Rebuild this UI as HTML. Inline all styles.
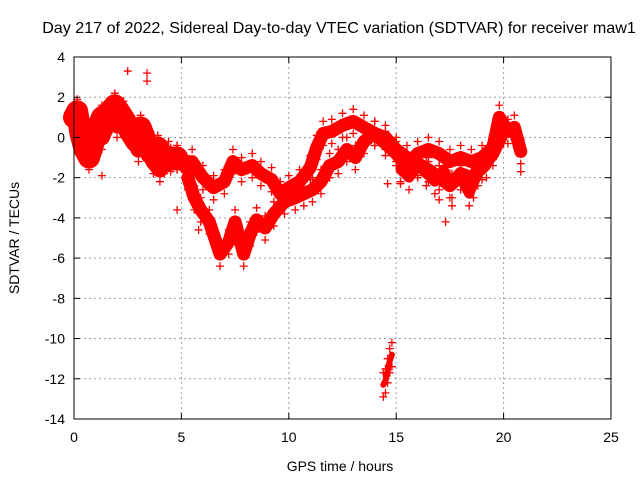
<!DOCTYPE html>
<html><head><meta charset="utf-8"><style>
body{margin:0;background:#fff}
svg{display:block;font-family:"Liberation Sans",sans-serif}
</style></head><body>
<svg id="chart" width="640" height="480">
<text x="339" y="33" font-size="16.1" text-anchor="middle">Day 217 of 2022, Sidereal Day-to-day VTEC variation (SDTVAR) for receiver maw1</text>
<text x="340" y="471" font-size="14" text-anchor="middle">GPS time / hours</text>
<text x="19" y="238" font-size="14" text-anchor="middle" transform="rotate(-90 19 238)">SDTVAR / TECUs</text>
<g id="grid"></g><g id="marks"></g><g id="axes"></g>
</svg>
<script>
const xTicks=[0,5,10,15,20,25];
const yTicks=[4,2,0,-2,-4,-6,-8,-10,-12,-14];
const track1Hours=[0,0.15,0.3,0.5,0.7,0.9,1.1,1.3,1.6,1.9,2.1,2.4,2.6,2.9,3.1,3.4,3.6,3.9,4.2,4.5,4.8];
const track1Values=[1,1.3,0.2,-0.6,-1.0,-0.3,0.5,1.0,1.2,1.6,1.3,0.8,0.3,-0.2,0.5,-0.3,-0.8,-0.5,-1.2,-1.1,-1.0];
const track2Hours=[0.2,0.5,0.8,1.0,1.3,1.6,2.0,2.3,2.7,3.0,3.3,3.7,4.0,4.4];
const track2Values=[0.4,0.2,-0.4,0.2,0.0,0.8,0.6,1.2,0.2,-0.6,-0.2,-1.2,-1.6,-0.8];
const upperHours=[4.8,5.2,5.5,6.0,6.5,7.0,7.4,7.8,8.3,8.7,9.2,9.6,10.0,10.5,11.0,11.3,11.6,12.0,12.5,13.0,13.5,14.0,14.5,15.0,15.5,16.0,16.5,17.0,17.5,18.0,18.5,19.0,19.5,19.8,20.2,20.5,20.8];
const upperValues=[-1,-1.5,-1.2,-2,-2.5,-2.2,-1.2,-1.6,-1.4,-1.8,-2.1,-2.8,-2.5,-2.2,-1.5,-0.5,0.2,0.3,0.6,0.8,0.5,0.2,-0.3,-0.8,-1.4,-0.8,-0.6,-0.8,-1.2,-1.0,-1.2,-1.0,-0.5,1.0,0.3,0.5,-0.7];
const lowerHours=[5.3,5.6,5.9,6.3,6.8,7.2,7.5,7.9,8.2,8.5,8.9,9.3,9.8,10.3,10.7,11.1,11.5,11.9,12.3,12.7,13.1,13.5,14.0,14.5,15.0,15.5,16.0,16.5,17.0,17.5,18.0,18.5,19.0,19.5,20.0];
const lowerValues=[-2,-3,-3.6,-4.2,-5.8,-5.2,-4.2,-5.8,-4.8,-4.1,-4.5,-3.8,-3.2,-3.0,-2.8,-2.6,-2.2,-1.4,-1.2,-0.6,-1.0,-0.2,0.2,0,-0.6,-1.0,-1.3,-1.6,-2.0,-2.4,-1.8,-2.0,-1.5,-0.8,0.3];
const noiseHours=[15.2,15.6,16.0,16.4,16.8,17.2,17.6,18.0,18.4,18.8,19.2];
const noiseValues=[-1.6,-2.0,-1.4,-1.8,-2.2,-1.6,-2.4,-2.0,-2.8,-1.8,-1.4];
const clusterHours=[14.4,14.5,14.6,14.7,14.8];
const clusterValues=[-12.3,-12.1,-11.6,-11.1,-10.8];
const strayHours=[2.5,3.4,3.4,0.3,1.3,4.8,5.6,5.8,17.3,17.6,14.6,20.8,15.2,18.6,17.0];
const strayValues=[3.3,3.2,2.8,-0.7,-1.9,-3.6,-3.1,-4.6,-4.2,-3.4,-2.3,-1.7,-2.3,-3.0,-3.1];
const NS="http://www.w3.org/2000/svg";
const X0=74,X1=611,Y0=57,Y1=419;
const xs=v=>X0+(v-0)/25*(X1-X0);
const ys=v=>Y0+(4-v)/18*(Y1-Y0);
function mk(t,a,p){const e=document.createElementNS(NS,t);for(const k in a)e.setAttribute(k,a[k]);p.appendChild(e);return e;}
const grid=document.getElementById('grid'),axes=document.getElementById('axes'),marks=document.getElementById('marks');
xTicks.forEach(t=>{const x=xs(t);
 if(t>0&&t<25){const g=mk('line',{x1:x,x2:x,y1:Y0,y2:Y1,stroke:'#a0a0a0','stroke-dasharray':'2,3'},grid);
 
 }
 mk('line',{x1:x,x2:x,y1:Y1,y2:Y1-6,stroke:'#000'},axes);mk('line',{x1:x,x2:x,y1:Y0,y2:Y0+6,stroke:'#000'},axes);
 const l=mk('text',{x:x,y:Y1+23,'font-size':14,'text-anchor':'middle'},axes);l.textContent=t;
 
 });
yTicks.forEach(t=>{const y=ys(t);
 if(t<4&&t>-14){const g=mk('line',{x1:X0,x2:X1,y1:y,y2:y,stroke:'#a0a0a0','stroke-dasharray':'2,3'},grid);
 
 }
 mk('line',{x1:X0,x2:X0+6,y1:y,y2:y,stroke:'#000'},axes);mk('line',{x1:X1,x2:X1-6,y1:y,y2:y,stroke:'#000'},axes);
 const l=mk('text',{x:X0-9,y:y+5,'font-size':14,'text-anchor':'end'},axes);l.textContent=t;
 
 });
const frame=mk('rect',{x:X0,y:Y0,width:X1-X0,height:Y1-Y0,fill:'none',stroke:'#000'},axes);


function plus(h,v,name){const x=xs(h),y=ys(v);const p=mk('path',{d:`M${x-4},${y}h8M${x},${y-4}v8`,stroke:'#f00','stroke-width':1.3},marks);
 
 }
function track(H,V,name,w){const pts=H.map((h,i)=>xs(h)+','+ys(V[i])).join(' ');
 const pl=mk('polyline',{points:pts,fill:'none',stroke:'#f00','stroke-width':w,'stroke-linejoin':'round','stroke-linecap':'round'},marks);
 
 
 H.forEach((h,i)=>{plus(h,V[i]+0.6,name+'-point');plus(h,V[i]-0.6,name+'-point');});}
track(track1Hours,track1Values,'early-series',22);
track(track2Hours,track2Values,'early-series-b',16);
track(upperHours,upperValues,'upper-series',13);
track(lowerHours,lowerValues,'lower-series',13);
track(noiseHours,noiseValues,'late-noise-series',10);
track(clusterHours,clusterValues,'outlier-cluster',6);
strayHours.forEach((h,i)=>plus(h,strayValues[i],'stray-point'));
</script>
</body></html>
